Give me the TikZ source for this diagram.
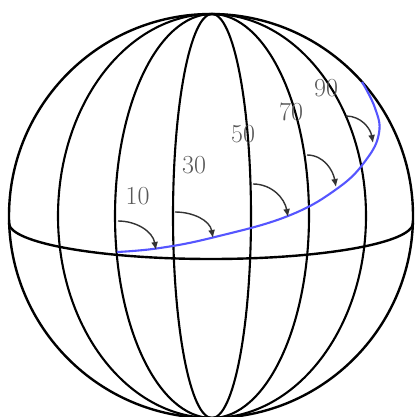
\documentclass[tikz,border=0pt]{standalone}
\usetikzlibrary{arrows.meta}
\definecolor{curveblue}{RGB}{85,85,255}
\tikzset{
  outline/.style={line width=2.4pt,black},
  meridian/.style={line width=2.1pt,black},
  equator/.style={line width=2.4pt,black},
  path3d/.style={line width=2.1pt,curveblue},
  turn/.style={line width=1.4pt,black!80,-{Latex[length=8pt,width=7pt]}},
  lab/.style={text=black!65,font=\fontsize{26}{26}\selectfont,inner sep=0pt}
}
\begin{document}
\begin{tikzpicture}[x=1pt,y=1pt]
\useasboundingbox (0,0) rectangle (416,-417);
\fill[white] (0,0) rectangle (416,-417);
% sphere outline
\draw[outline] (211,-216) circle[radius=202];
% meridians (front halves, symmetric pairs)
\foreach \a in {39,97,154}
  \draw[meridian] (212,-216) ellipse[x radius=\a, y radius=202];
% equator, front half
\draw[equator] (9,-223) arc[start angle=180,end angle=360,x radius=202,y radius=36];
% blue curve
\draw[path3d] plot[smooth,tension=0.7] coordinates {
  (117,-252) (160,-248) (215,-237) (288,-216)
  (338,-188) (366,-160) (379,-133) (375,-108) (362,-82)};
% labels
\node[lab] (l10) at (137.5,-196.5) {10};
\node[lab] (l30) at (194,-165) {30};
\node[lab] (l50) at (243,-134) {50};
\node[lab] (l70) at (291,-112) {70};
\node[lab] (l90) at (326,-88) {90};
% arrow end points
\coordinate (s1) at (118,-221); \coordinate (t1) at (156,-250);
\coordinate (s2) at (175,-212); \coordinate (t2) at (213,-238);
\coordinate (s3) at (253,-184); \coordinate (t3) at (288,-217);
\coordinate (s4) at (307,-155); \coordinate (t4) at (336,-187);
\coordinate (s5) at (346,-116); \coordinate (t5) at (373,-143);
\draw[turn] (s1) to[out=0,in=100] (t1);
\draw[turn] (s2) to[out=0,in=100] (t2);
\draw[turn] (s3) to[out=0,in=100] (t3);
\draw[turn] (s4) to[out=0,in=100] (t4);
\draw[turn] (s5) to[out=0,in=100] (t5);
\end{tikzpicture}
\end{document}
